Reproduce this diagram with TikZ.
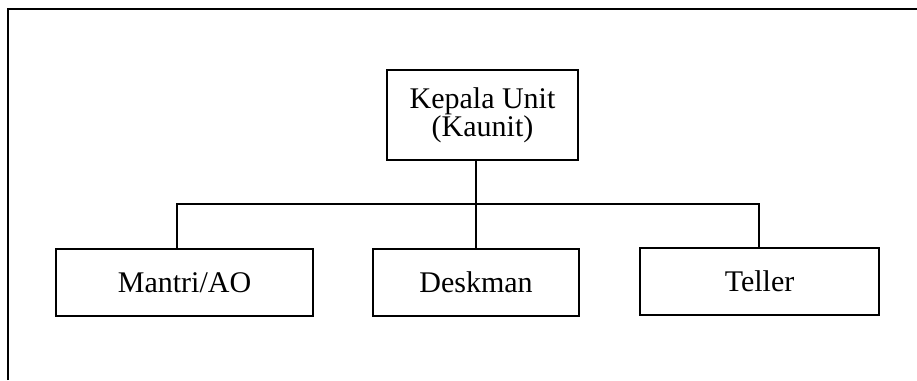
\documentclass[tikz,border=0pt]{standalone}
\usepackage{fontspec}
\setmainfont{Liberation Serif}
\begin{document}
\begin{tikzpicture}[x=1pt,y=-1pt,
  line width=1.8pt,
  orgbox/.style={draw, rectangle, inner sep=0pt, align=center,
    font=\fontsize{30}{26}\selectfont}]
\useasboundingbox (0,0) rectangle (917,380);
% outer frame (open on right and bottom)
\draw[line width=2.2pt] (8,380) -- (8,9) -- (917,9);
\node[orgbox, minimum width=191pt, minimum height=90pt] (kep) at (482.5,115) {Kepala Unit\\(Kaunit)};
\node[orgbox, minimum width=257pt, minimum height=67pt] (mantri) at (184.5,282.5) {Mantri/AO};
\node[orgbox, minimum width=206pt, minimum height=67pt] (desk) at (476,282.5) {Deskman};
\node[orgbox, minimum width=239pt, minimum height=67pt] (teller) at (759.5,281.5) {Teller};
\coordinate (busL) at (177,204);
\coordinate (busR) at (759,204);
\draw (desk.north) -- (desk.north |- kep.south);
\draw (busL |- mantri.north) -- (busL) -- (busR) -- (busR |- teller.north);
\end{tikzpicture}
\end{document}
